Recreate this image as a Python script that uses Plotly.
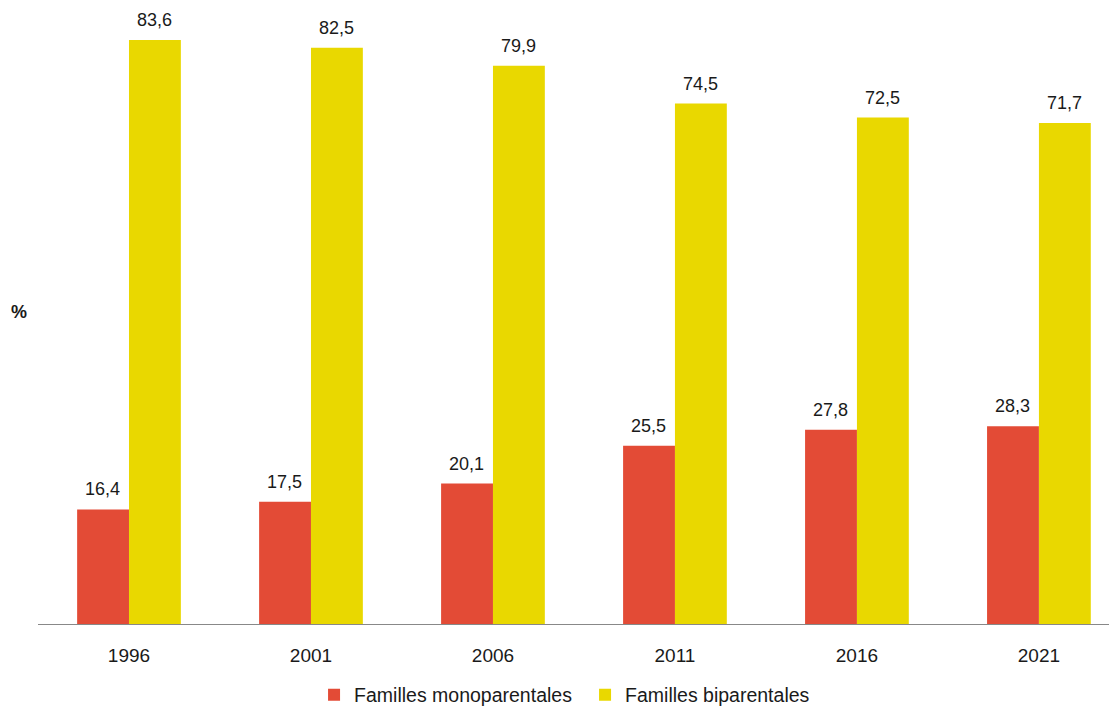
import plotly.graph_objects as go

years = ["1996", "2001", "2006", "2011", "2016", "2021"]
mono = [16.4, 17.5, 20.1, 25.5, 27.8, 28.3]
bi = [83.6, 82.5, 79.9, 74.5, 72.5, 71.7]
names = ["Familles monoparentales", "Familles biparentales"]

def fr(v):
    return f"{v:.1f}".replace(".", ",")

fig = go.Figure()
fig.add_trace(go.Bar(x=years, y=mono, name=names[0], marker_color="#E34B36",
                     marker_line_width=0))
fig.add_trace(go.Bar(x=years, y=bi, name=names[1], marker_color="#E9D800",
                     marker_line_width=0))

for series, shift in ((mono, -26), (bi, 26)):
    for i, v in enumerate(series):
        fig.add_annotation(x=i, y=v, text=fr(v), showarrow=False, xshift=shift,
                           yshift=8, yanchor="bottom", xanchor="center",
                           font=dict(size=18, color="#1a1a1a"))

fig.update_layout(
    width=1109, height=705,
    margin=dict(l=30, r=0, t=12, b=89, autoexpand=False),
    paper_bgcolor="white", plot_bgcolor="white",
    font=dict(family="Liberation Sans, Arial, sans-serif", size=19, color="#1a1a1a"),
    barmode="group", bargap=0.43, bargroupgap=0,
    showlegend=True,
    legend=dict(orientation="h", x=0.507, xanchor="center", yref="container",
                y=0.0255, yanchor="middle", font=dict(size=19.5), itemwidth=30,
                tracegroupgap=0, entrywidth=226, entrywidthmode="pixels"),
    xaxis=dict(type="category", range=[-0.5, 5.429], showline=True, linecolor="#888888",
               linewidth=1, ticks="", tickfont=dict(size=19), automargin=False,
               ticklabelstandoff=14),
    yaxis=dict(range=[0, 86.46], showticklabels=False, showgrid=False, zeroline=False,
               showline=False, automargin=False),
)
fig.add_annotation(text="<b>%</b>", xref="paper", yref="paper", x=-0.018, y=0.5166,
                   showarrow=False, font=dict(size=18), xanchor="center", yanchor="middle")
fig.write_html("out.html")
